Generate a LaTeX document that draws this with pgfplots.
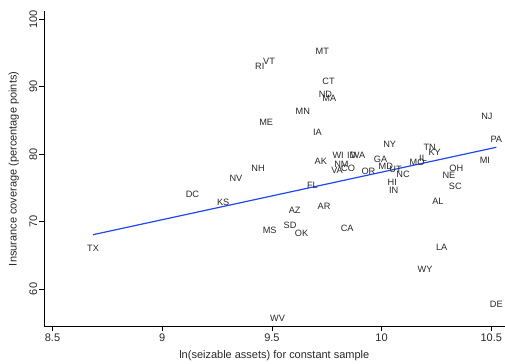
\documentclass[border=0pt]{standalone}
\usepackage{fontspec}
\setmainfont{Liberation Sans}
\usepackage{pgfplots}
\pgfplotsset{compat=1.18}
\usetikzlibrary{calc}
\definecolor{fitblue}{RGB}{30,70,255}
\definecolor{labgray}{RGB}{40,40,40}
\begin{document}
\begin{tikzpicture}
\begin{axis}[
  name=ax,
  scale only axis,
  width=461pt, height=316pt,
  xmin=8.461, xmax=10.561,
  ymin=54.4, ymax=101.2,
  axis x line*=bottom, axis y line*=left,
  axis line style={black, line width=0.7pt},
  xtick={8.5,9,9.5,10,10.5},
  xticklabels={8.5,9,9.5,10,10.5},
  ytick={60,70,80,90,100},
  tick align=outside,
  major tick length=4.5pt,
  tick style={black, line width=0.7pt},
  minor tick num=0,
  /pgf/number format/assume math mode=true,
  ticklabel style={font=\fontsize{11}{13}\selectfont, text=labgray},
  yticklabel style={rotate=90, anchor=south, inner sep=2pt},
  xticklabel style={anchor=north, inner sep=2pt},
  xlabel={ln(seizable assets) for constant sample},
  ylabel={Insurance coverage (percentage points)},
  label style={font=\fontsize{11}{13}\selectfont, text=labgray},
  xlabel style={at={(axis description cs:0.5,0)}, anchor=center, yshift=-28.5pt},
  ylabel style={at={(axis description cs:-0.0655,0.5)}, anchor=center},
  clip=false,
]
\addplot[fitblue, line width=1.2pt, mark=none] coordinates {(8.685,68.05) (10.523,81.0)};
\addplot[draw=none, mark=none, nodes near coords, point meta=explicit symbolic,
  nodes near coords style={anchor=center, inner sep=0pt, font=\fontsize{9.2}{10}\selectfont, text=labgray}]
  table[meta=label, row sep=\\] {
x y label\\
9.730 95.15 MT\\
9.487 93.73 VT\\
9.445 92.99 RI\\
9.758 90.71 CT\\
9.744 88.79 ND\\
9.762 88.30 MA\\
9.641 86.33 MN\\
9.474 84.64 ME\\
9.708 83.17 IA\\
9.802 79.82 WI\\
9.864 79.82 ID\\
9.893 79.82 WA\\
9.723 78.88 AK\\
9.817 78.49 NM\\
9.797 77.65 VA\\
9.847 77.84 CO\\
9.940 77.46 OR\\
9.685 75.33 FL\\
9.437 77.84 NH\\
9.336 76.36 NV\\
9.138 74.00 DC\\
9.278 72.87 KS\\
9.604 71.69 AZ\\
9.738 72.22 AR\\
9.490 68.67 MS\\
9.583 69.41 SD\\
9.635 68.22 OK\\
9.843 68.96 CA\\
10.480 85.53 NJ\\
10.523 82.23 PA\\
10.037 81.45 NY\\
10.219 80.95 TN\\
10.242 80.27 KY\\
10.471 79.13 MI\\
9.995 79.23 GA\\
10.019 78.24 MD\\
10.064 77.75 UT\\
10.098 76.95 NC\\
10.162 78.79 MO\\
10.189 79.38 IL\\
10.341 77.90 OH\\
10.307 76.80 NE\\
10.336 75.18 SC\\
10.049 75.77 HI\\
10.055 74.69 IN\\
10.257 73.06 AL\\
8.685 65.96 TX\\
10.274 66.15 LA\\
10.198 62.96 WY\\
10.523 57.68 DE\\
9.526 55.71 WV\\
};
\end{axis}
\path[use as bounding box] ($(ax.south west)+(-44pt,-37pt)$) rectangle ($(ax.north east)+(0pt,11pt)$);
\end{tikzpicture}
\end{document}
